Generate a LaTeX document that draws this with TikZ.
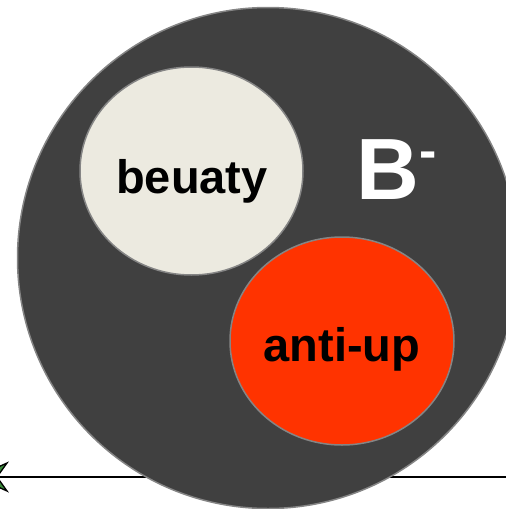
\documentclass[tikz,border=0pt]{standalone}
\usepackage{fontspec}
\setmainfont{Liberation Sans}
\usetikzlibrary{shapes.geometric}
\definecolor{darkbg}{HTML}{404040}
\definecolor{rimgray}{HTML}{858585}
\definecolor{beige}{HTML}{ECEAE0}
\definecolor{redorange}{HTML}{FF3300}
\definecolor{arrowgreen}{HTML}{3A8A3A}
\tikzset{
  blob/.style={ellipse, draw=rimgray, line width=1.5pt, inner sep=0pt},
  lbl/.style={inner sep=0pt, anchor=base, font=\fontsize{47}{50}\selectfont\bfseries, text=black},
}
\begin{document}
\begin{tikzpicture}[x=1pt,y=-1pt]
\useasboundingbox (0,0) rectangle (506,509);
\clip (0,0) rectangle (506,509);
% axis line with arrow head at left
\coordinate (lend) at (-20,477);
\coordinate (rend) at (510,477);
\draw[line width=1.6pt, black] (lend) -- (rend);
\filldraw[fill=arrowgreen, draw=black, line width=1.3pt]
  (-24,477) -- (7,463) -- (-3,477) -- (7,491) -- cycle;
\draw[line width=1.6pt, black] (-3,477) -- (rend);
% big circle
\node[blob, fill=darkbg, minimum width=501pt, minimum height=501pt] (big) at (268,258) {};
% inner ellipses
\node[blob, fill=beige, minimum width=223pt, minimum height=208pt] (beauty) at (191.5,171) {};
\node[blob, fill=redorange, minimum width=224pt, minimum height=208pt] (antiup) at (342,341) {};
% labels
\node[lbl] (tb) at (192,193) {beuaty};
\node[lbl] (ta) at (342,361) {anti-up};
\node[inner sep=0pt, anchor=base west, text=white, font=\fontsize{87}{90}\selectfont\bfseries] (bm) at (356,199) {B\raisebox{31pt}{\fontsize{52}{54}\selectfont -}};
\end{tikzpicture}
\end{document}
